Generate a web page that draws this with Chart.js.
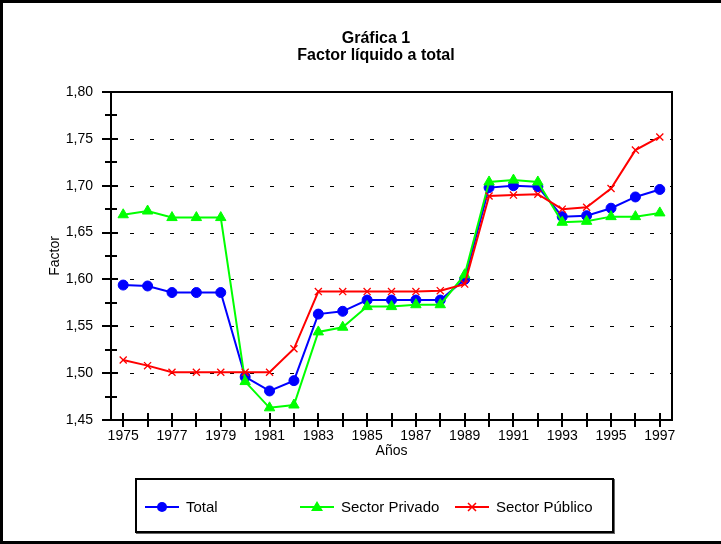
<!DOCTYPE html>
<html>
<head>
<meta charset="utf-8">
<script src="https://cdn.jsdelivr.net/npm/chart.js@4/dist/chart.umd.min.js"></script>
<style>
  body { margin: 0; background: #fff; font-family: "Liberation Sans", Arial, sans-serif; }
  #wrap { position: relative; width: 721px; height: 544px; overflow: hidden; }
  #frame { position: absolute; left: 0; top: 0; width: 730px; height: 544px; box-sizing: border-box;
           border: 3px solid #000; pointer-events: none; }
  #chart { position: absolute; left: 0; top: 0; }
  #title { position: absolute; left: 226px; top: 29px; width: 300px; text-align: center;
           font-weight: bold; font-size: 16px; line-height: 17px; color: #000; }
  #legend { position: absolute; left: 135px; top: 478px; width: 479px; height: 55px; box-sizing: border-box;
            border: 2px solid #000; box-shadow: 1px 1px 0 #666; background: #fff; }
  .item { position: absolute; top: 18px; height: 18px; font-size: 15px; line-height: 18px; color: #000; }
  .item svg { position: absolute; left: 0; top: 1px; }
  .item span { position: absolute; left: 41px; white-space: nowrap; }
</style>
</head>
<body>
<div id="wrap">
  <canvas id="chart" width="721" height="544"></canvas>
  <div id="title">Gráfica 1<br>Factor líquido a total</div>
  <div id="legend"></div>
  <div id="frame"></div>
</div>
<script>
// Factor líquido a total, 1975-1997
const years = ['1975', '1976', '1977', '1978', '1979', '1980', '1981', '1982', '1983', '1984', '1985', '1986',
  '1987', '1988', '1989', '1990', '1991', '1992', '1993', '1994', '1995', '1996', '1997'];

const total = [1.594, 1.593, 1.586, 1.586, 1.586, 1.496, 1.481, 1.492, 1.563, 1.566, 1.578, 1.578,
  1.578, 1.578, 1.600, 1.698, 1.700, 1.699, 1.667, 1.668, 1.676, 1.688, 1.696];

const privado = [1.669, 1.673, 1.666, 1.666, 1.666, 1.491, 1.463, 1.466, 1.544, 1.549, 1.571, 1.571,
  1.573, 1.573, 1.605, 1.704, 1.706, 1.704, 1.661, 1.662, 1.667, 1.667, 1.671];

const publico = [1.514, 1.508, 1.501, 1.501, 1.501, 1.501, 1.501, 1.526, 1.587, 1.587, 1.587, 1.587,
  1.587, 1.588, 1.595, 1.689, 1.690, 1.691, 1.675, 1.677, 1.697, 1.738, 1.752];

const yTicks = [1.45, 1.50, 1.55, 1.60, 1.65, 1.70, 1.75, 1.80];

const series = [
  { label: 'Total', data: total, color: '#0000ff', style: 'circle', radius: 5 },
  { label: 'Sector Privado', data: privado, color: '#00ff00', style: 'triangle', radius: 6 },
  { label: 'Sector Público', data: publico, color: '#ff0000', style: 'crossRot', radius: 5 }
];

Chart.defaults.font.family = '"Liberation Sans", Arial, sans-serif';
Chart.defaults.font.size = 14;
Chart.defaults.color = '#000';

// frame, dashed grid and crossing tick marks
const axesPlugin = {
  id: 'axes',
  beforeDatasetsDraw(chart) {
    const { ctx, chartArea: a, scales: { x, y } } = chart;
    ctx.save();
    ctx.strokeStyle = '#000';
    ctx.lineWidth = 1;
    ctx.setLineDash([4, 16]);
    ctx.lineDashOffset = 1;
    yTicks.slice(1, -1).forEach(v => {
      const py = Math.round(y.getPixelForValue(v)) + 0.5;
      ctx.beginPath();
      ctx.moveTo(a.left, py);
      ctx.lineTo(a.right, py);
      ctx.stroke();
    });
    ctx.setLineDash([]);
    ctx.lineWidth = 2;
    ctx.strokeRect(a.left, a.top, a.right - a.left, a.bottom - a.top);
    yTicks.forEach((v, i) => {
      const py = Math.round(y.getPixelForValue(v));
      ctx.beginPath();
      ctx.moveTo(a.left - 9, py);
      ctx.lineTo(a.left + 7, py);
      ctx.stroke();
      if (i < yTicks.length - 1) {
        const pm = Math.round(y.getPixelForValue(v + 0.025));
        ctx.beginPath();
        ctx.moveTo(a.left - 6, pm);
        ctx.lineTo(a.left + 6, pm);
        ctx.stroke();
      }
    });
    years.forEach((_, i) => {
      const px = Math.round(x.getPixelForValue(i));
      ctx.beginPath();
      ctx.moveTo(px, a.bottom - 7);
      ctx.lineTo(px, a.bottom + 7);
      ctx.stroke();
    });
    ctx.restore();
  }
};

new Chart(document.getElementById('chart'), {
  type: 'line',
  data: {
    labels: years,
    datasets: series.map((s, i) => ({
      label: s.label,
      data: s.data,
      borderColor: s.color,
      backgroundColor: s.color,
      borderWidth: 2,
      pointStyle: s.style,
      pointRadius: s.radius,
      pointBorderWidth: s.style === 'crossRot' ? 1.3 : 1,
      pointBorderColor: s.color,
      pointBackgroundColor: s.color,
      tension: 0,
      order: 3 - i
    }))
  },
  options: {
    responsive: false,
    animation: false,
    layout: { padding: { top: 92, right: 49, bottom: 82, left: 0 } },
    plugins: { legend: { display: false }, tooltip: { enabled: false } },
    scales: {
      x: {
        offset: true,
        grid: { display: false, drawTicks: false },
        border: { display: false },
        ticks: {
          autoSkip: false,
          maxRotation: 0,
          padding: 8,
          callback: (v, i) => (i % 2 === 0 ? years[i] : '')
        },
        title: { display: true, text: 'Años', padding: { top: 0, bottom: 2 } },
        afterFit: s => { s.height = 42; }
      },
      y: {
        min: 1.45,
        max: 1.80,
        grid: { display: false, drawTicks: false },
        border: { display: false },
        afterBuildTicks: s => { s.ticks = yTicks.map(v => ({ value: v })); },
        ticks: {
          padding: 18,
          callback: v => v.toFixed(2).replace('.', ',')
        },
        title: { display: true, text: 'Factor', padding: { top: 47, bottom: 0 } },
        afterFit: s => { s.width = 111; }
      }
    }
  },
  plugins: [axesPlugin]
});

// legend box
const legend = document.getElementById('legend');
const lefts = [8, 163, 318];
series.forEach((s, i) => {
  let mark = '';
  if (s.style === 'circle') mark = `<circle cx="17" cy="8" r="5" fill="${s.color}"/>`;
  if (s.style === 'triangle') mark = `<polygon points="17,2 23,12 11,12" fill="${s.color}"/>`;
  if (s.style === 'crossRot') mark = `<path d="M13 4 L21 12 M21 4 L13 12" stroke="${s.color}" stroke-width="1.5"/>`;
  const div = document.createElement('div');
  div.className = 'item';
  div.style.left = lefts[i] + 'px';
  div.innerHTML = `<svg width="34" height="16"><line x1="0" y1="8" x2="34" y2="8" stroke="${s.color}" stroke-width="2"/>${mark}</svg><span>${s.label}</span>`;
  legend.appendChild(div);
});
</script>
</body>
</html>
